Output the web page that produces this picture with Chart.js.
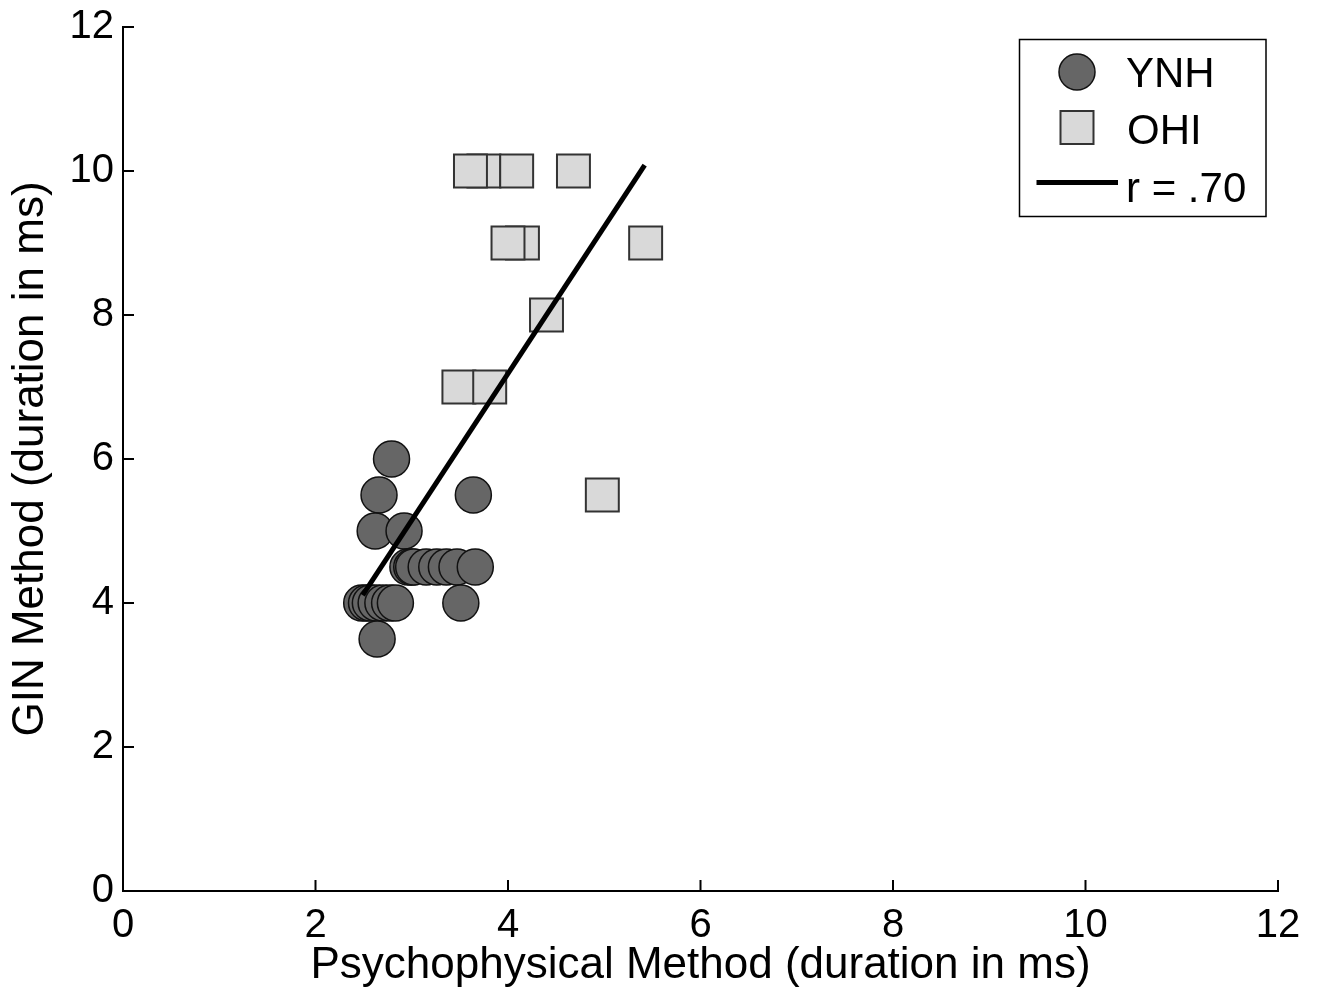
<!DOCTYPE html>
<html>
<head>
<meta charset="utf-8">
<script src="https://cdn.jsdelivr.net/npm/chart.js@4/dist/chart.umd.min.js"></script>
<style>
  html, body { margin: 0; padding: 0; background: #ffffff; }
  #wrap { width: 1321px; height: 997px; position: relative; }
</style>
</head>
<body>
<div id="wrap"><canvas id="c" width="1321" height="997"></canvas></div>
<script>
// ---- Data ----
const xTickValues = [0, 2, 4, 6, 8, 10, 12];
const yTickValues = [0, 2, 4, 6, 8, 10, 12];

const ynhLabel = 'YNH';
const ynhX = [2.79, 2.66, 3.64, 2.62, 2.92,
              2.96, 3.00, 3.02, 3.15, 3.26, 3.36, 3.47, 3.66,
              2.48, 2.53, 2.57, 2.63, 2.70, 2.77, 2.83, 3.51,
              2.64];
const ynhY = [6.0, 5.5, 5.5, 5.0, 5.0,
              4.5, 4.5, 4.5, 4.5, 4.5, 4.5, 4.5, 4.5,
              4.0, 4.0, 4.0, 4.0, 4.0, 4.0, 4.0, 4.0,
              3.5];

const ohiLabel = 'OHI';
const ohiX = [3.75, 3.61, 4.09, 4.68, 4.15, 4.00, 5.43, 4.40, 3.49, 3.81, 4.98];
const ohiY = [10, 10, 10, 10, 9, 9, 9, 8, 7, 7, 5.5];

const fitLabel = 'r = .70';
const fitX = [2.49, 5.42];
const fitY = [4.11, 10.08];

// ---- Helpers ----
const toPoints = (xs, ys) => xs.map((x, i) => ({ x: x, y: ys[i] }));
const FONT = "'Liberation Sans', Arial, Helvetica, sans-serif";
Chart.defaults.font.family = FONT;
Chart.defaults.color = '#000000';

// inward tick marks
const inwardTicks = {
  id: 'inwardTicks',
  afterDatasetsDraw(chart) {
    const { ctx, chartArea, scales } = chart;
    const len = 11;
    ctx.save();
    ctx.strokeStyle = '#000000';
    ctx.lineWidth = 2;
    ctx.beginPath();
    xTickValues.forEach(v => {
      const px = scales.x.getPixelForValue(v);
      ctx.moveTo(px, chartArea.bottom);
      ctx.lineTo(px, chartArea.bottom - len);
    });
    yTickValues.forEach(v => {
      const py = scales.y.getPixelForValue(v);
      ctx.moveTo(chartArea.left, py);
      ctx.lineTo(chartArea.left + len, py);
    });
    ctx.stroke();
    ctx.restore();
  }
};

// boxed legend in the upper right corner
const boxLegend = {
  id: 'boxLegend',
  afterDraw(chart) {
    const { ctx } = chart;
    const ds = chart.data.datasets;
    const ynh = ds.find(d => d.label === ynhLabel);
    const ohi = ds.find(d => d.label === ohiLabel);
    const fit = ds.find(d => d.label === fitLabel);
    ctx.save();
    // frame
    ctx.fillStyle = '#ffffff';
    ctx.fillRect(1019.5, 39.5, 246.5, 177);
    ctx.strokeStyle = '#000000';
    ctx.lineWidth = 1.5;
    ctx.strokeRect(1019.5, 39.5, 246.5, 177);
    // circle
    ctx.beginPath();
    ctx.arc(1077, 72, 18, 0, Math.PI * 2);
    ctx.fillStyle = ynh.backgroundColor;
    ctx.fill();
    ctx.lineWidth = ynh.borderWidth;
    ctx.strokeStyle = ynh.borderColor;
    ctx.stroke();
    // square
    ctx.fillStyle = ohi.backgroundColor;
    ctx.fillRect(1060.5, 111, 33, 33);
    ctx.lineWidth = ohi.borderWidth;
    ctx.strokeStyle = ohi.borderColor;
    ctx.strokeRect(1060.5, 111, 33, 33);
    // line
    ctx.beginPath();
    ctx.moveTo(1036.5, 182.5);
    ctx.lineTo(1118, 182.5);
    ctx.lineWidth = fit.borderWidth;
    ctx.strokeStyle = fit.borderColor;
    ctx.stroke();
    // texts
    ctx.fillStyle = '#000000';
    ctx.font = '42px ' + FONT;
    ctx.textAlign = 'left';
    ctx.textBaseline = 'alphabetic';
    ctx.fillText(ynh.label, 1126, 87);
    ctx.fillText(ohi.label, 1127, 143.5);
    ctx.fillText(fit.label, 1126, 202);
    ctx.restore();
  }
};

new Chart(document.getElementById('c'), {
  data: {
    datasets: [
      {
        type: 'line',
        label: fitLabel,
        data: toPoints(fitX, fitY),
        borderColor: '#000000',
        borderWidth: 5,
        pointRadius: 0,
        fill: false,
        order: 0
      },
      {
        type: 'scatter',
        label: ohiLabel,
        data: toPoints(ohiX, ohiY),
        pointStyle: 'rect',
        pointRadius: 23.3,
        pointHoverRadius: 23.3,
        backgroundColor: '#d9d9d9',
        borderColor: '#333333',
        borderWidth: 2,
        order: 1
      },
      {
        type: 'scatter',
        label: ynhLabel,
        data: toPoints(ynhX, ynhY),
        pointStyle: 'circle',
        pointRadius: 18,
        pointHoverRadius: 18,
        backgroundColor: '#666666',
        borderColor: '#111111',
        borderWidth: 1.5,
        order: 2
      }
    ]
  },
  options: {
    responsive: false,
    animation: false,
    devicePixelRatio: 1,
    layout: { padding: { top: 24, right: 43, left: 0, bottom: 0 } },
    plugins: {
      legend: { display: false },
      tooltip: { enabled: false }
    },
    scales: {
      x: {
        type: 'linear',
        min: 0, max: 12,
        afterBuildTicks: (s) => { s.ticks = xTickValues.map(v => ({ value: v })); },
        afterFit: (s) => { s.height = 106; },
        grid: { display: true, drawOnChartArea: false, drawTicks: false },
        border: { display: true, color: '#000000', width: 2 },
        ticks: { font: { size: 40 }, color: '#000000', padding: 11, maxRotation: 0 },
        title: {
          display: true,
          text: 'Psychophysical Method (duration in ms)',
          font: { size: 44 },
          color: '#000000',
          padding: { top: 0, bottom: 5 }
        }
      },
      y: {
        type: 'linear',
        min: 0, max: 12,
        afterBuildTicks: (s) => { s.ticks = yTickValues.map(v => ({ value: v })); },
        afterFit: (s) => { s.width = 123; },
        grid: { display: true, drawOnChartArea: false, drawTicks: false },
        border: { display: true, color: '#000000', width: 2 },
        ticks: { font: { size: 40, lineHeight: 0.9 }, color: '#000000', padding: 9 },
        title: {
          display: true,
          text: 'GIN Method (duration in ms)',
          font: { size: 44 },
          color: '#000000',
          padding: { top: 4, bottom: 0 }
        }
      }
    }
  },
  plugins: [inwardTicks, boxLegend]
});
</script>
</body>
</html>
